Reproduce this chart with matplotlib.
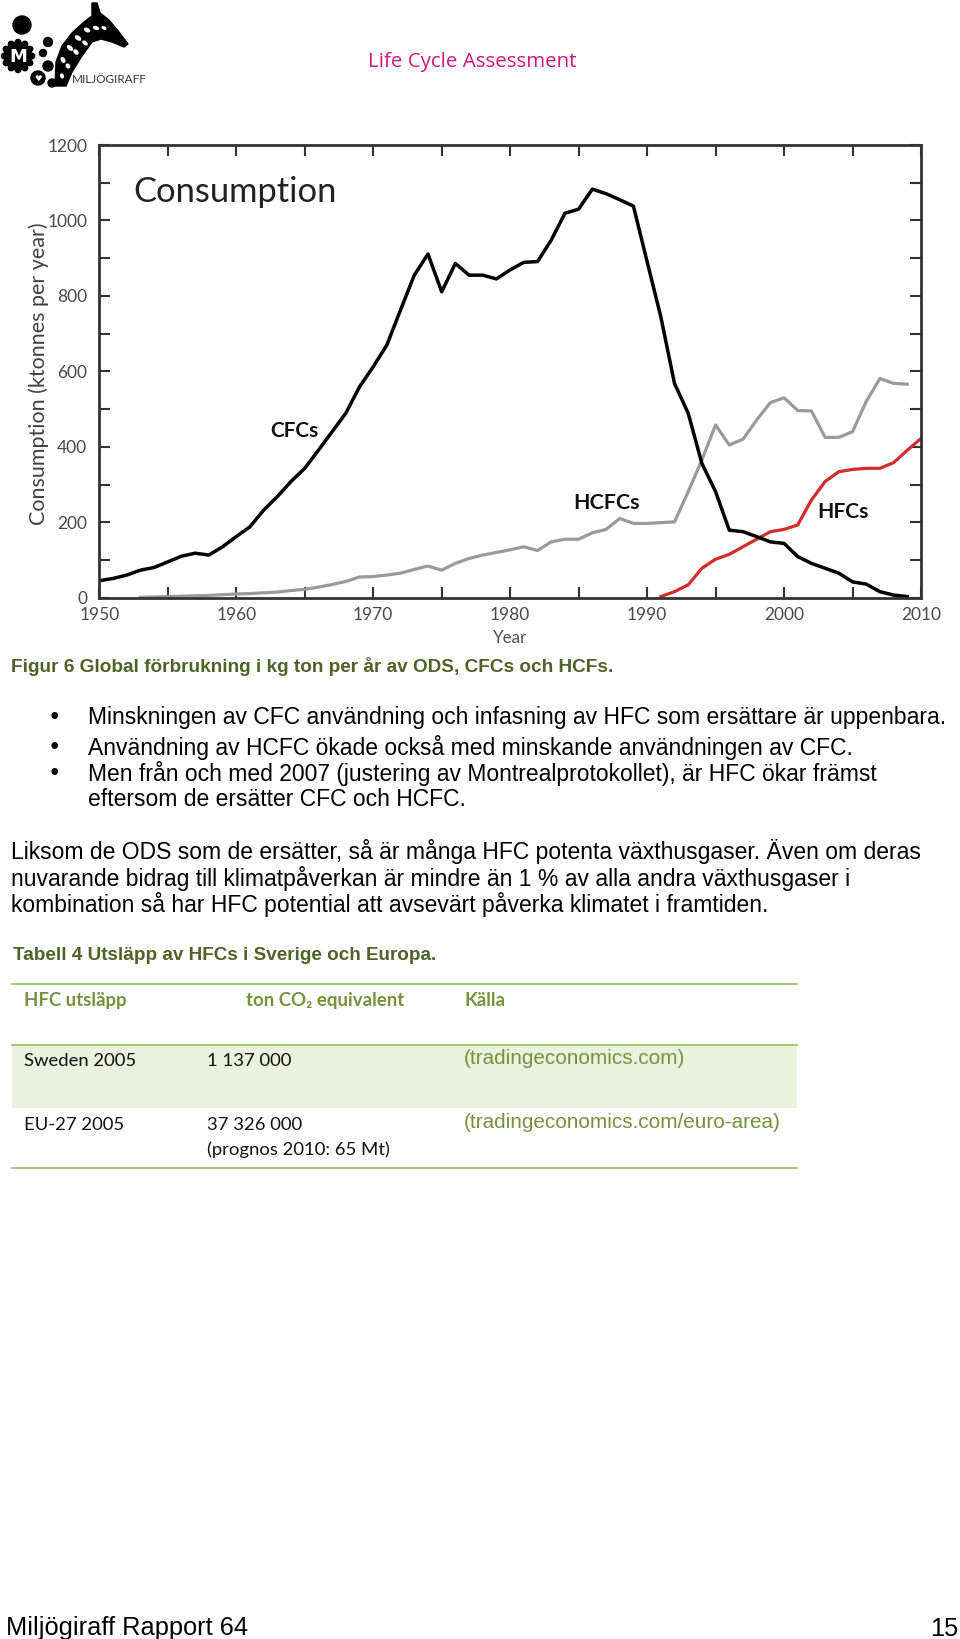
import numpy as np
import matplotlib
matplotlib.use("Agg")
import matplotlib.pyplot as plt
from matplotlib.patches import Circle, Polygon, Rectangle, Ellipse
from matplotlib.ticker import MultipleLocator

# consumption, ktonnes per year
cfc_years = list(range(1950, 2010))
cfc = [45, 51, 60, 73, 80, 95, 110, 118, 113, 135,
       162, 188, 232, 268, 308, 343, 391, 440, 489, 559,
       612, 670, 763, 855, 911, 811, 886, 855, 855, 845,
       869, 889, 891, 948, 1019, 1030, 1083, 1071, 1055, 1038,
       891, 745, 568, 489, 356, 281, 179, 175, 162, 148,
       144, 109, 91, 78, 65, 42, 36, 16, 7, 3]

hcfc_years = list(range(1953, 2010))
hcfc = [1, 2, 3, 4, 5, 6, 8,
        10, 11, 13, 15, 19, 22, 28, 35, 43, 55,
        56, 60, 65, 75, 84, 73, 91, 104, 113, 120,
        127, 135, 125, 148, 155, 155, 172, 181, 210, 197,
        197, 199, 201, 281, 365, 458, 405, 420, 471, 517,
        530, 496, 495, 425, 425, 440, 520, 581, 568, 566]

hfc_years = list(range(1991, 2011))
hfc = [3, 16, 34, 78, 102, 115, 135, 155, 175, 181,
       193, 259, 308, 334, 340, 343, 343, 358, 391, 422]

bullets = [
    "Minskningen av CFC användning och infasning av HFC som ersättare är uppenbara.",
    "Användning av HCFC ökade också med minskande användningen av CFC.",
    "Men från och med 2007 (justering av Montrealprotokollet), är HFC ökar främst",
    "eftersom de ersätter CFC och HCFC.",
]
paragraph = [
    "Liksom de ODS som de ersätter, så är många HFC potenta växthusgaser. Även om deras",
    "nuvarande bidrag till klimatpåverkan är mindre än 1 % av alla andra växthusgaser i",
    "kombination så har HFC potential att avsevärt påverka klimatet i framtiden.",
]
table_header = ["HFC utsläpp", "ton CO₂ equivalent", "Källa"]
table_rows = [
    ["Sweden 2005", "1 137 000", "(tradingeconomics.com)"],
    ["EU-27 2005", "37 326 000\n(prognos 2010: 65 Mt)", "(tradingeconomics.com/euro-area)"],
]

W, H = 960, 1639
fig = plt.figure(figsize=(W / 100, H / 100), dpi=100)
renderer = fig.canvas.get_renderer()

# page overlay in pixel coordinates
page = fig.add_axes([0, 0, 1, 1])
page.set_xlim(0, W)
page.set_ylim(H, 0)
page.axis("off")

olive = "#4F6228"
green = "#76923C"
body = ["Liberation Sans", "DejaVu Sans"]
cal = ["Lato", "DejaVu Sans"]


def fit_size(s, width, size=12, **kw):
    # font size that makes text s span the given width in pixels
    t = page.text(0, 0, s, fontsize=size, **kw)
    bb = t.get_window_extent(renderer)
    t.remove()
    return size * width / max(bb.width, bb.height)


def ptext(x, y, s, size, **kw):
    kw.setdefault("va", "center_baseline")
    kw.setdefault("family", body)
    return page.text(x, y, s, fontsize=size, **kw)


# --- logo ---
page.add_patch(Circle((22, 25), 9, color="black"))
page.add_patch(Circle((18, 56), 14, color="black"))
for a in np.linspace(0, 2 * np.pi, 12, endpoint=False):
    page.add_patch(Circle((18 + 14 * np.cos(a), 56 + 14 * np.sin(a)), 2.6, color="black"))
page.text(18, 57, "M", ha="center", va="center", color="white", fontsize=13,
          fontweight="bold", family="DejaVu Sans")
for (cx, cy, r) in [(48, 42, 4.5), (43, 53, 3.5), (48, 66, 5), (52, 83, 4)]:
    page.add_patch(Circle((cx, cy), r, color="black"))
page.add_patch(Circle((38, 78), 7, color="black"))
page.text(38, 78.5, "♥", ha="center", va="center", color="white", fontsize=6, family="DejaVu Sans")
neck = [(55, 86), (56, 62), (62, 46), (72, 33), (84, 22), (92, 16), (92, 3), (97, 3),
        (100, 13), (109, 20), (119, 32), (128, 44), (124, 47), (112, 42), (101, 39),
        (92, 42), (82, 56), (72, 72), (66, 86)]
page.add_patch(Polygon(neck, closed=True, color="black"))
for (ex, ey, ew, eh, ang) in [(63, 60, 5, 3, 60), (70, 48, 6, 3, 40), (78, 38, 6, 3, 35),
                              (87, 30, 5, 3, 30), (68, 66, 4, 3, 60), (76, 52, 5, 3, 45),
                              (85, 43, 5, 2.5, 40), (96, 28, 5, 2.5, 20), (104, 28, 4, 2, 30),
                              (62, 76, 4, 2.5, 70)]:
    page.add_patch(Ellipse((ex, ey), ew, eh, angle=ang, color="white"))
page.text(72, 79.5, "MILJÖGIRAFF", ha="left", va="center",
          fontsize=fit_size("MILJÖGIRAFF", 75, family=cal), family=cal, color="#333333")

ptext(368, 60, "Life Cycle Assessment",
      fit_size("Life Cycle Assessment", 207, family=["Open Sans", "DejaVu Sans"]),
      ha="left", family=["Open Sans", "DejaVu Sans"], color="#D0177F")

# --- chart ---
x0, x1, y0, y1 = 99.3, 921, 145, 597.7
ax = fig.add_axes([x0 / W, 1 - y1 / H, (x1 - x0) / W, (y1 - y0) / H])
ax.plot(hcfc_years, hcfc, color="#9a9a9a", lw=2.3, solid_joinstyle="round")
ax.plot(hfc_years, hfc, color="#d42b2b", lw=2.3, solid_joinstyle="round")
ax.plot(cfc_years, cfc, color="black", lw=2.5, solid_joinstyle="round")
ax.set_xlim(1950, 2010)
ax.set_ylim(0, 1200)
ax.xaxis.set_major_locator(MultipleLocator(10))
ax.xaxis.set_minor_locator(MultipleLocator(5))
ax.yaxis.set_major_locator(MultipleLocator(200))
ax.yaxis.set_minor_locator(MultipleLocator(100))
ax.tick_params(which="both", direction="in", top=True, right=True, length=8,
               width=1.5, color="#333333")
ax.tick_params(axis="x", pad=6.5, labelsize=12.5, labelcolor="#4a4a4a")
ax.tick_params(axis="y", pad=8.6, labelsize=12.5, labelcolor="#4a4a4a")
for lab in ax.get_xticklabels() + ax.get_yticklabels():
    lab.set_family(cal)
for s in ax.spines.values():
    s.set_linewidth(2)
    s.set_color("#333333")

ax.text(1952.5, 1050, "Consumption", ha="left", va="baseline",
        fontsize=fit_size("Consumption", 202, family=cal), family=cal, color="#222222")
for (lx, ly, name, wpx) in [(1962.46, 426, "CFCs", 48), (1984.58, 234, "HCFCs", 66),
                            (2002.46, 210.5, "HFCs", 51)]:
    ax.text(lx, ly, name, ha="left", va="baseline", fontweight="bold", family=cal,
            color="#111111", fontsize=fit_size(name, wpx, family=cal, fontweight="bold"))

ylab = "Consumption (ktonnes per year)"
page.text(38.5, 374, ylab, rotation=90, ha="center", va="center",
          fontsize=fit_size(ylab, 302, family=cal), family=cal, color="#404040")
page.text(510, 643, "Year", ha="center", va="baseline",
          fontsize=fit_size("Year", 34, family=cal), family=cal, color="#505050")

# --- captions and body text ---
cap = "Figur 6 Global förbrukning i kg ton per år av ODS, CFCs och HCFs."
ptext(11, 665, cap, fit_size(cap, 598, family=body, fontweight="bold"),
      ha="left", fontweight="bold", color=olive)

bsize = fit_size(bullets[0], 858, family=body)
for yy, s in zip([715, 745, 771, 797], bullets):
    ptext(88, yy, s, bsize, ha="left")
for yy in [715, 745, 771]:
    ptext(54.5, yy, "•", bsize, ha="center", family="DejaVu Sans")
for yy, s in zip([849, 876, 902], paragraph):
    ptext(11, yy, s, bsize, ha="left")

tcap = "Tabell 4 Utsläpp av HFCs i Sverige och Europa."
ptext(13, 953, tcap, fit_size(tcap, 421, family=body, fontweight="bold"),
      ha="left", fontweight="bold", color=olive)

# --- table ---
lx0, lx1 = 11.5, 797
page.add_patch(Rectangle((lx0, 1045), lx1 - lx0, 63, color="#EAF1DD", lw=0))
for yy in [984, 1045, 1168]:
    page.plot([lx0, lx1], [yy, yy], color="#9BBB59", lw=1.2)

col_x = [23.5, 246, 464]
hsize = fit_size(table_header[0], 102, family=cal, fontweight="bold")
for cx, s in zip(col_x, table_header):
    ptext(cx, 999, s, hsize, ha="left", family=cal, color=green, fontweight="bold")

row_y = [1059, 1123]
rsize = fit_size(table_rows[0][0], 112, family=cal)
ssize = fit_size(table_rows[0][2], 222, family=body)
for ry, row in zip(row_y, table_rows):
    ptext(col_x[0], ry, row[0], rsize, ha="left", family=cal, color="#111111")
    for k, line in enumerate(row[1].split("\n")):
        ptext(206.6, ry + 25 * k, line, rsize, ha="left", family=cal, color="#111111")
    ptext(col_x[2], ry - 2, row[2], ssize, ha="left", color=green)

# --- footer ---
fsize = fit_size("Miljögiraff Rapport 64", 242, family=body)
ptext(6, 1626, "Miljögiraff Rapport 64", fsize, ha="left", color="black")
ptext(958, 1626, "15", fsize, ha="right", color="black")

fig.savefig("out.png", dpi=100)
